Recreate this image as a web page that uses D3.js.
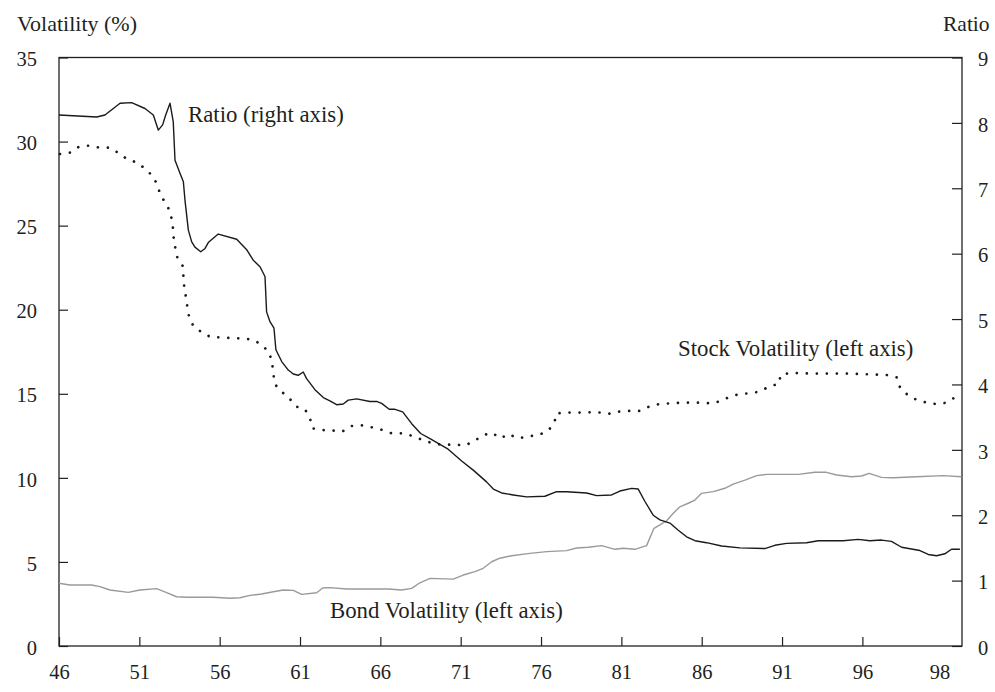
<!DOCTYPE html>
<html>
<head>
<meta charset="utf-8">
<script src="https://cdn.jsdelivr.net/npm/d3@7/dist/d3.min.js"></script>
<style>
  html, body { margin: 0; padding: 0; background: #fff; }
  svg { display: block; }
  text { font-family: "Liberation Serif", "Times New Roman", serif; fill: #231f20; }
</style>
</head>
<body>
<svg id="chart" width="995" height="692"></svg>
<script>
// Stock/bond volatility ratio (right axis), in years since 1900
const ratioYears = [46.00, 48.35, 48.86, 49.80, 50.52, 51.35, 51.87, 52.18, 52.45, 52.64, 52.91, 53.11, 53.22, 53.53, 53.74, 53.84,
  54.05, 54.26, 54.46, 54.82, 55.09, 55.29, 55.91, 57.06, 57.68, 58.09, 58.51, 58.82, 58.92, 59.13, 59.38, 59.50, 59.86,
  60.27, 60.58, 60.89, 61.20, 61.41, 61.93, 62.45, 62.86, 63.28, 63.69, 64.00, 64.53, 65.35, 65.77, 66.08, 66.55, 66.91,
  67.39, 67.95, 68.51, 69.09, 70.22, 71.06, 71.78, 72.61, 73.03, 73.55, 74.27, 75.10, 76.24, 76.97, 77.59, 78.84, 79.46,
  80.39, 80.91, 81.64, 82.05, 82.47, 82.98, 83.40, 84.02, 84.54, 85.06, 85.58, 86.30, 87.24, 88.38, 89.93, 90.55, 91.28,
  92.53, 93.25, 94.80, 95.74, 96.47, 97.19, 97.81, 98.44, 99.58, 100.10, 100.62, 101.13, 101.55, 102.07];
const ratioValues = [8.12, 8.09, 8.12, 8.30, 8.31, 8.22, 8.12, 7.89, 7.97, 8.12, 8.30, 8.02, 7.43, 7.23, 7.10, 6.82,
  6.36, 6.18, 6.10, 6.03, 6.08, 6.17, 6.30, 6.22, 6.06, 5.90, 5.80, 5.65, 5.11, 4.96, 4.86, 4.53, 4.35,
  4.22, 4.16, 4.14, 4.19, 4.09, 3.92, 3.80, 3.75, 3.69, 3.70, 3.76, 3.78, 3.74, 3.74, 3.71, 3.62, 3.62,
  3.58, 3.40, 3.25, 3.17, 3.01, 2.83, 2.69, 2.51, 2.40, 2.34, 2.31, 2.28, 2.29, 2.36, 2.36, 2.34, 2.30,
  2.31, 2.37, 2.41, 2.40, 2.21, 2.00, 1.93, 1.88, 1.77, 1.67, 1.61, 1.58, 1.53, 1.50, 1.49, 1.54, 1.57,
  1.58, 1.61, 1.61, 1.63, 1.61, 1.62, 1.60, 1.51, 1.46, 1.40, 1.38, 1.41, 1.48, 1.48];

// Stock volatility, % (left axis)
const stockYears = [46.06, 46.68, 47.26, 47.89, 48.51, 49.17, 49.73, 50.25, 50.87, 51.40, 51.87, 52.14, 52.33, 52.70, 52.95,
  53.08, 53.11, 53.22, 53.32, 53.70, 53.78, 53.88, 53.98, 54.09, 54.36, 54.88, 55.46, 56.12, 56.78, 57.47, 58.13, 58.68,
  59.09, 59.27, 59.34, 59.44, 59.90, 60.37, 60.79, 61.31, 61.62, 61.76, 62.35, 63.03, 63.63, 64.17, 64.84, 65.46, 66.12,
  66.70, 67.39, 68.01, 68.63, 69.25, 69.91, 70.58, 71.22, 71.82, 72.34, 72.93, 73.49, 73.96, 74.58, 75.23, 75.83, 76.41,
  76.82, 76.97, 77.59, 78.25, 78.90, 79.56, 80.18, 80.80, 81.47, 82.11, 82.71, 83.34, 84.02, 84.64, 85.37, 85.99, 86.65,
  87.24, 87.75, 88.38, 89.00, 89.62, 90.24, 90.80, 90.91, 91.53, 92.22, 92.86, 95.22, 97.51, 98.13, 98.29, 98.75, 99.31,
  100.00, 100.62, 101.24, 101.76, 102.07];
const stockValues = [29.26, 29.34, 29.70, 29.76, 29.64, 29.64, 29.30, 28.95, 28.75, 28.35, 27.91, 27.36, 26.76, 26.29, 25.69,
  25.04, 24.44, 23.79, 23.19, 22.60, 21.47, 20.88, 20.22, 19.59, 19.03, 18.66, 18.36, 18.36, 18.30, 18.30, 18.20, 17.86,
  17.44, 16.81, 16.18, 15.56, 15.09, 14.69, 14.23, 14.08, 13.54, 12.95, 12.85, 12.81, 12.75, 13.08, 13.12, 13.01, 12.85,
  12.65, 12.65, 12.49, 12.25, 12.06, 11.95, 12.00, 11.91, 12.17, 12.51, 12.69, 12.35, 12.61, 12.35, 12.47, 12.55, 12.77,
  13.25, 13.84, 13.88, 13.88, 13.90, 13.90, 13.80, 13.94, 13.98, 13.98, 14.23, 14.39, 14.43, 14.47, 14.47, 14.47, 14.43,
  14.59, 14.83, 14.99, 15.03, 15.13, 15.46, 15.58, 16.12, 16.25, 16.22, 16.20, 16.20, 16.12, 15.98, 15.46, 14.99, 14.67,
  14.47, 14.39, 14.47, 14.79, 15.00];

// Bond volatility, % (left axis)
const bondYears = [46.00, 46.68, 48.03, 48.55, 49.17, 50.31, 51.04, 52.08, 52.70, 53.32, 53.95, 55.60, 56.64, 57.26, 57.89,
  58.61, 59.34, 59.96, 60.58, 61.10, 62.04, 62.41, 62.86, 63.90, 66.49, 67.33, 67.95, 68.46, 69.09, 70.54, 71.16, 71.89,
  72.40, 72.93, 73.44, 74.17, 75.31, 76.35, 77.59, 78.22, 78.94, 79.77, 80.60, 81.11, 81.84, 82.57, 83.03, 83.40, 83.82,
  84.23, 84.64, 85.16, 85.58, 85.99, 86.72, 87.44, 87.96, 88.69, 89.42, 90.04, 92.01, 93.04, 93.77, 94.39, 95.33, 95.95,
  96.42, 97.19, 97.92, 99.37, 101.03, 102.17];
const bondValues = [3.73, 3.63, 3.63, 3.53, 3.33, 3.19, 3.33, 3.41, 3.17, 2.93, 2.90, 2.90, 2.84, 2.87, 3.01,
  3.09, 3.23, 3.33, 3.31, 3.07, 3.17, 3.45, 3.47, 3.39, 3.39, 3.33, 3.43, 3.76, 4.02, 3.98, 4.22, 4.42,
  4.62, 5.01, 5.22, 5.37, 5.51, 5.61, 5.67, 5.83, 5.87, 5.97, 5.75, 5.81, 5.75, 5.97, 7.00, 7.20, 7.45,
  7.89, 8.28, 8.49, 8.68, 9.08, 9.18, 9.38, 9.63, 9.87, 10.13, 10.21, 10.21, 10.33, 10.33, 10.17, 10.07, 10.11,
  10.27, 10.03, 10.01, 10.07, 10.13, 10.07];

// Axis ticks and labels
const leftTicks = [0, 5, 10, 15, 20, 25, 30, 35];
const rightTicks = [0, 1, 2, 3, 4, 5, 6, 7, 8, 9];
const xTickYears = [46, 51, 56, 61, 66, 71, 76, 81, 86, 91, 96];
const xEndLabelYear = [100.8];
const xEndLabelText = ["98"];

const svg = d3.select("#chart");
const margin = { top: 57.5, right: 33, bottom: 46, left: 59 };
const W = 995 - margin.left - margin.right;
const H = 692 - margin.top - margin.bottom;
const g = svg.append("g").attr("transform", `translate(${margin.left},${margin.top})`);

const x = d3.scaleLinear().domain([46, 102.2]).range([0, W]);
const yL = d3.scaleLinear().domain([0, 35]).range([H, 0]);
const yR = d3.scaleLinear().domain([0, 9]).range([H, 0]);

const axisColor = "#231f20";

// Axes with inward-pointing ticks
const styleAxis = sel => {
  sel.select(".domain").remove();
  sel.selectAll(".tick line").attr("stroke", axisColor).attr("stroke-width", 1.2);
  sel.selectAll(".tick text").attr("fill", axisColor).style("font-size", "20.5px")
    .style("font-family", '"Liberation Serif", "Times New Roman", serif');
};

g.append("g")
  .call(d3.axisLeft(yL).tickValues(leftTicks).tickSizeInner(-9).tickSizeOuter(0).tickPadding(22))
  .call(styleAxis)
  .selectAll(".tick text").attr("dy", "0.4em");

g.append("g").attr("transform", `translate(${W},0)`)
  .call(d3.axisRight(yR).tickValues(rightTicks).tickSizeInner(-10).tickSizeOuter(0).tickPadding(16))
  .call(styleAxis)
  .selectAll(".tick text").attr("dy", "0.4em");

g.append("g").attr("transform", `translate(0,${H})`)
  .call(d3.axisBottom(x).tickValues(xTickYears).tickFormat(d3.format("d")).tickSizeInner(-9).tickSizeOuter(0).tickPadding(18))
  .call(styleAxis);

g.append("g").attr("transform", `translate(0,${H})`)
  .call(d3.axisBottom(x).tickValues(xEndLabelYear).tickFormat((d, i) => xEndLabelText[i]).tickSize(0).tickPadding(18))
  .call(styleAxis);

// Frame
g.append("rect")
  .attr("x", 0).attr("y", 0).attr("width", W).attr("height", H)
  .attr("fill", "none").attr("stroke", axisColor).attr("stroke-width", 1.3);

// Series
const zip = (xs, ys) => xs.map((d, i) => [d, ys[i]]);

const lineL = d3.line().x(d => x(d[0])).y(d => yL(d[1]));
const lineR = d3.line().x(d => x(d[0])).y(d => yR(d[1]));

g.append("path").datum(zip(bondYears, bondValues))
  .attr("d", lineL).attr("fill", "none")
  .attr("stroke", "#9a9a9a").attr("stroke-width", 1.4).attr("stroke-linejoin", "round");

g.append("path").datum(zip(stockYears, stockValues))
  .attr("d", lineL).attr("fill", "none")
  .attr("stroke", "#1a1a1a").attr("stroke-width", 2.7)
  .attr("stroke-linecap", "round").attr("stroke-dasharray", "0.01 10");

g.append("path").datum(zip(ratioYears, ratioValues))
  .attr("d", lineR).attr("fill", "none")
  .attr("stroke", "#1a1a1a").attr("stroke-width", 1.4).attr("stroke-linejoin", "round");

// Axis titles
svg.append("text").attr("x", 17).attr("y", 31).style("font-size", "22px").text("Volatility (%)");
svg.append("text").attr("x", 943).attr("y", 31).style("font-size", "21.5px").text("Ratio");

// Series labels
svg.append("text").attr("x", 188).attr("y", 121.5).style("font-size", "22.8px").text("Ratio (right axis)");
svg.append("text").attr("x", 678).attr("y", 356).style("font-size", "22.8px").text("Stock Volatility (left axis)");
svg.append("text").attr("x", 330).attr("y", 618).style("font-size", "22.8px").text("Bond Volatility (left axis)");
</script>
</body>
</html>
